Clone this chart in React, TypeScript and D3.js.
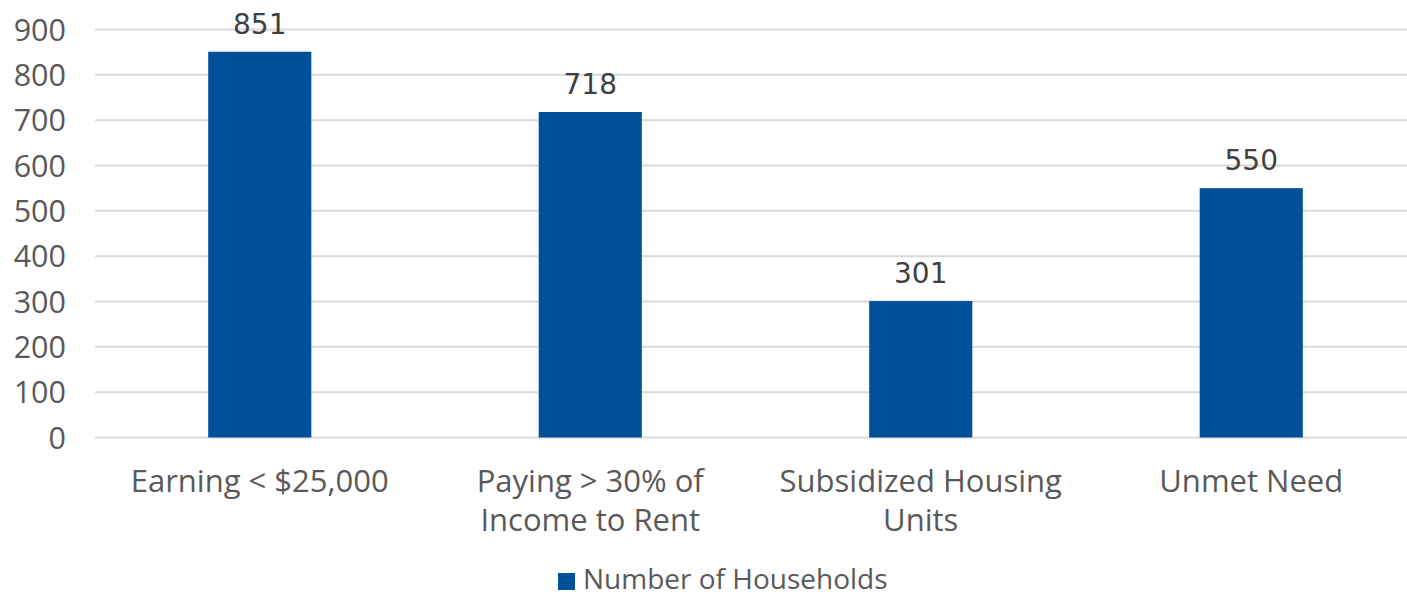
import React from "react";
import * as d3 from "d3";

const categories: string[][] = [
  ["Earning < $25,000"],
  ["Paying > 30% of", "Income to Rent"],
  ["Subsidized Housing", "Units"],
  ["Unmet Need"],
];
const values: number[] = [851, 718, 301, 550];
const yTicks: number[] = [0, 100, 200, 300, 400, 500, 600, 700, 800, 900];
const seriesName = "Number of Households";

const W = 1407;
const H = 596;
const BAR = "#00509A";
const FONT = "'Open Sans', 'Liberation Sans', Arial, sans-serif";
const LABEL_FONT = "'DejaVu Sans', Verdana, sans-serif";

export default function App() {
  const x = d3
    .scaleBand<number>()
    .domain(values.map((_, i) => i))
    .range([94.5, 1416.5])
    .paddingInner(0.688)
    .paddingOuter(0.344);
  const y = d3.scaleLinear().domain([0, 900]).range([437.5, 29.5]);

  return (
    <svg width={W} height={H} style={{ position: "absolute", left: 0, top: 0 }}>
      <rect width={W} height={H} fill="#fff" />
      {yTicks.map((t) => (
        <g key={t}>
          <line x1={95} x2={W} y1={y(t)} y2={y(t)} stroke="#d9d9d9" strokeWidth={2} />
          <text x={66} y={y(t) + 11} textAnchor="end" fontFamily={FONT} fontSize={30.5} fill="#595959">
            {t}
          </text>
        </g>
      ))}
      {values.map((v, i) => (
        <g key={i}>
          <rect x={x(i)!} y={y(v)} width={x.bandwidth()} height={y(0) - y(v)} fill={BAR} />
          <text
            x={x(i)! + x.bandwidth() / 2}
            y={y(v) - 18}
            textAnchor="middle"
            fontFamily={LABEL_FONT}
            fontSize={28}
            fill="#404040"
          >
            {v}
          </text>
          {categories[i].map((line, j) => (
            <text
              key={j}
              x={x(i)! + x.bandwidth() / 2}
              y={492 + j * 39}
              textAnchor="middle"
              fontFamily={FONT}
              fontSize={31}
              fill="#595959"
            >
              {line}
            </text>
          ))}
        </g>
      ))}
      <rect x={558} y={573} width={17} height={17} fill={BAR} />
      <text x={583} y={589} fontFamily={FONT} fontSize={28} fill="#595959">
        {seriesName}
      </text>
    </svg>
  );
}
